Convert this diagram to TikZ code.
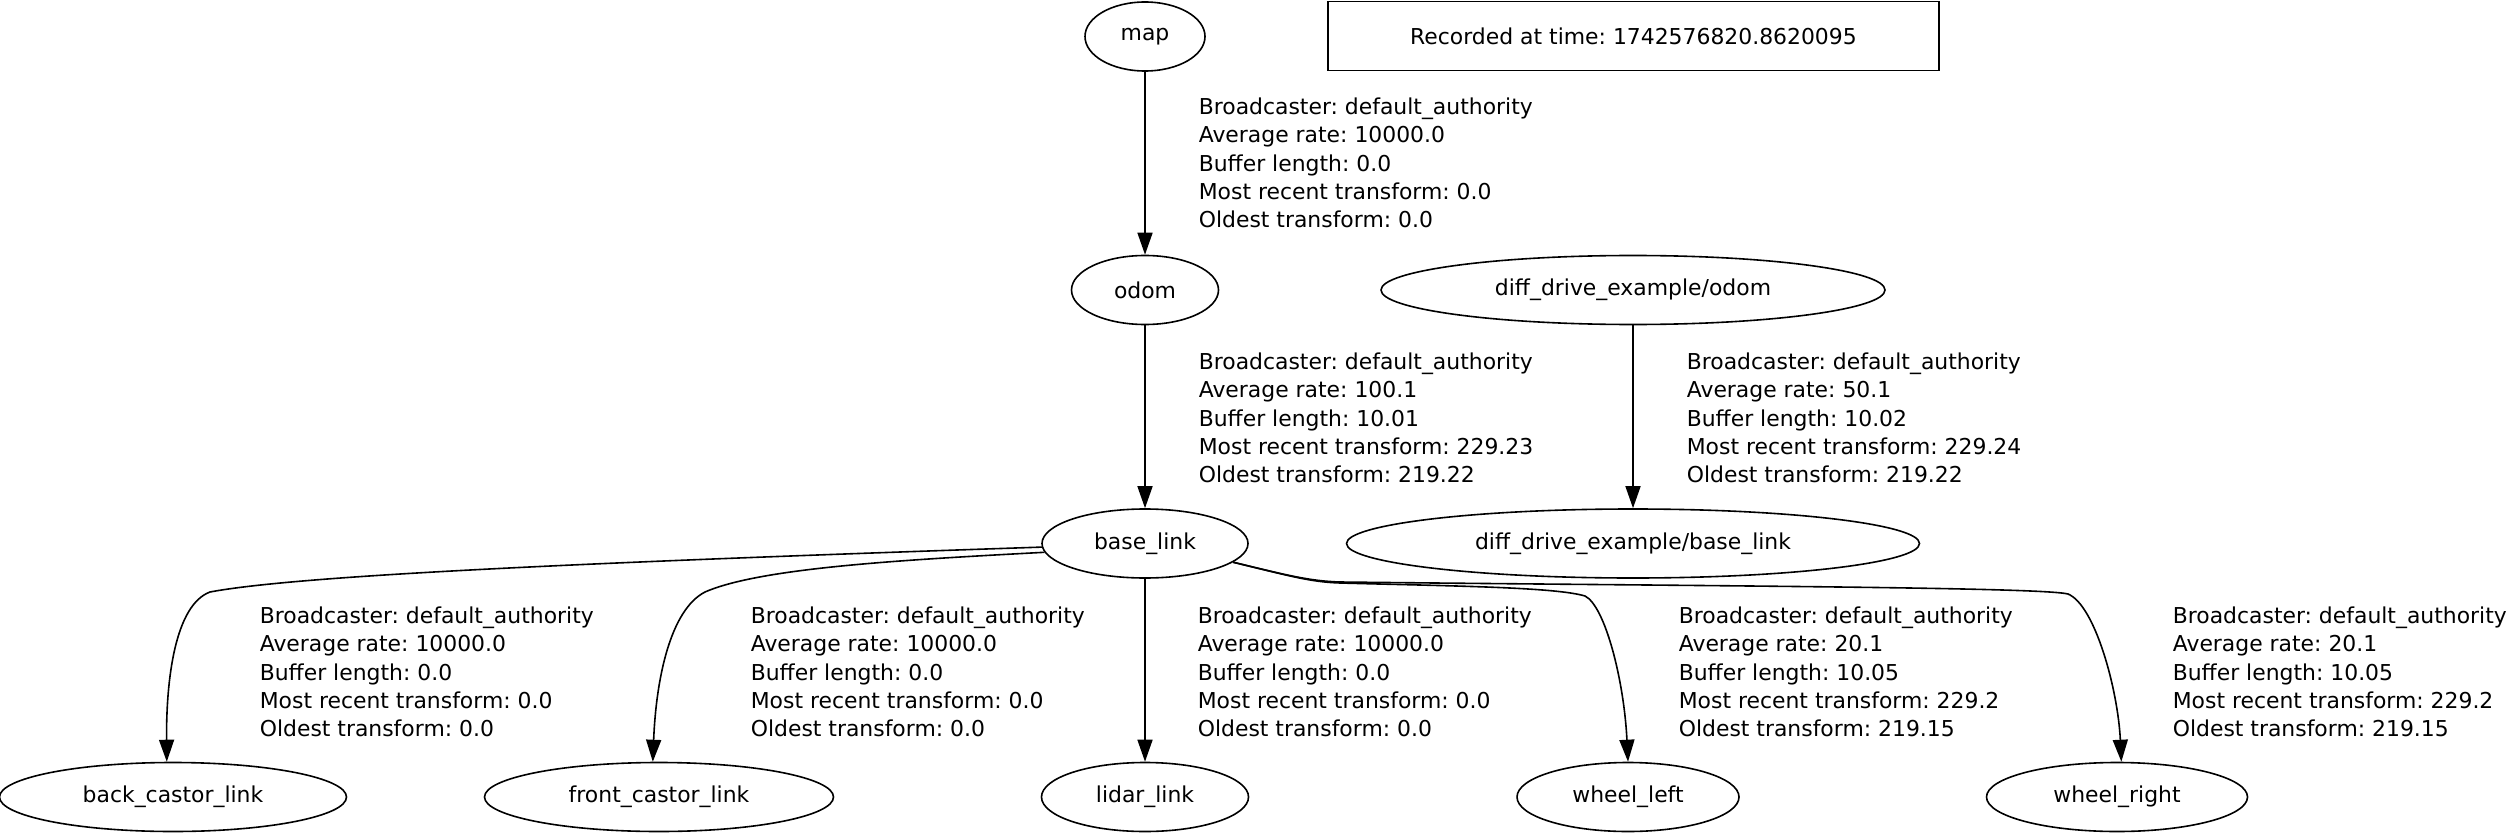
\documentclass[tikz,border=0pt]{standalone}
\usepackage{fontspec}
\setmainfont{DejaVu Sans}
\usetikzlibrary{positioning,arrows.meta,shapes.geometric}
\frenchspacing

\begin{document}
\begin{tikzpicture}[x=0.5pt, y=-0.5pt, node distance=126.75pt, on grid,
    font=\fontsize{10.95pt}{14.15pt}\selectfont, line width=0.8pt,
    tfnode/.style={ellipse, draw, inner sep=0pt, minimum height=34.5pt},
    info/.style={anchor=north west, align=left, inner sep=0pt},
    >={Triangle[length=11pt,width=7.5pt]}]
   \useasboundingbox (0,0) rectangle (2509,834);
   % frames
   \node[tfnode, minimum width=60pt] (map) at (1145,36.5) {map};
   \node[draw, minimum width=305.5pt, minimum height=34.5pt] (stamp) at (1633.5,36) {Recorded at time: 1742576820.8620095};
   \node[tfnode, minimum width=73.5pt] (odom) [below=of map] {odom};
   \node[tfnode, minimum width=252pt] (dd_odom) [right=244pt of odom] {diff\_drive\_example/odom};
   \node[tfnode, minimum width=103pt] (base_link) [below=of odom] {base\_link};
   \node[tfnode, minimum width=286.5pt] (dd_base) [below=of dd_odom] {diff\_drive\_example/base\_link};
   \node[tfnode, minimum width=103.5pt] (lidar_link) [below=of base_link] {lidar\_link};
   \node[tfnode, minimum width=173.5pt] (back_castor) [left=486pt of lidar_link] {back\_castor\_link};
   \node[tfnode, minimum width=174.5pt] (front_castor) [left=243pt of lidar_link] {front\_castor\_link};
   \node[tfnode, minimum width=111pt] (wheel_left) [right=241.5pt of lidar_link] {wheel\_left};
   \node[tfnode, minimum width=130.5pt] (wheel_right) [right=486pt of lidar_link] {wheel\_right};
   % transforms
   \path[->]
    (map) edge (odom)
    (odom) edge (base_link)
    (dd_odom) edge (dd_base)
    (base_link) edge (lidar_link);
   \draw[->] (base_link.182) .. controls (600,562) and (300,575) .. (210,592)
      .. controls (175,605) and (166,680) .. (back_castor.100);
   \draw[->] (base_link.185) .. controls (900,560) and (760,568) .. (705,592)
      .. controls (670,610) and (656,680) .. (front_castor.100);
   \draw[->] (base_link.-12) .. controls (1290,576) and (1310,582) .. (1340,583)
      .. controls (1450,586) and (1555,587) .. (1585,596)
      .. controls (1605,606) and (1624,680) .. (wheel_left.north);
   \draw[->] (base_link.-12) .. controls (1290,576) and (1310,581) .. (1340,582)
      .. controls (1700,586) and (2040,587) .. (2068,594)
      .. controls (2095,605) and (2118,690) .. (wheel_right.83);
   % labels
   \node[info] (info_odom) at (1198,97) {Broadcaster: default\_authority\\Average rate: 10000.0\\Buffer length: 0.0\\Most recent transform: 0.0\\Oldest transform: 0.0};
   \node[info] (info_base) at (1198,352) {Broadcaster: default\_authority\\Average rate: 100.1\\Buffer length: 10.01\\Most recent transform: 229.23\\Oldest transform: 219.22};
   \node[info] (info_dd) at (1686,352) {Broadcaster: default\_authority\\Average rate: 50.1\\Buffer length: 10.02\\Most recent transform: 229.24\\Oldest transform: 219.22};
   \node[info] (info_back) at (259,606) {Broadcaster: default\_authority\\Average rate: 10000.0\\Buffer length: 0.0\\Most recent transform: 0.0\\Oldest transform: 0.0};
   \node[info] (info_front) at (750,606) {Broadcaster: default\_authority\\Average rate: 10000.0\\Buffer length: 0.0\\Most recent transform: 0.0\\Oldest transform: 0.0};
   \node[info] (info_lidar) at (1197,606) {Broadcaster: default\_authority\\Average rate: 10000.0\\Buffer length: 0.0\\Most recent transform: 0.0\\Oldest transform: 0.0};
   \node[info] (info_left) at (1678,606) {Broadcaster: default\_authority\\Average rate: 20.1\\Buffer length: 10.05\\Most recent transform: 229.2\\Oldest transform: 219.15};
   \node[info] (info_right) at (2172,606) {Broadcaster: default\_authority\\Average rate: 20.1\\Buffer length: 10.05\\Most recent transform: 229.2\\Oldest transform: 219.15};
\end{tikzpicture}
\end{document}
